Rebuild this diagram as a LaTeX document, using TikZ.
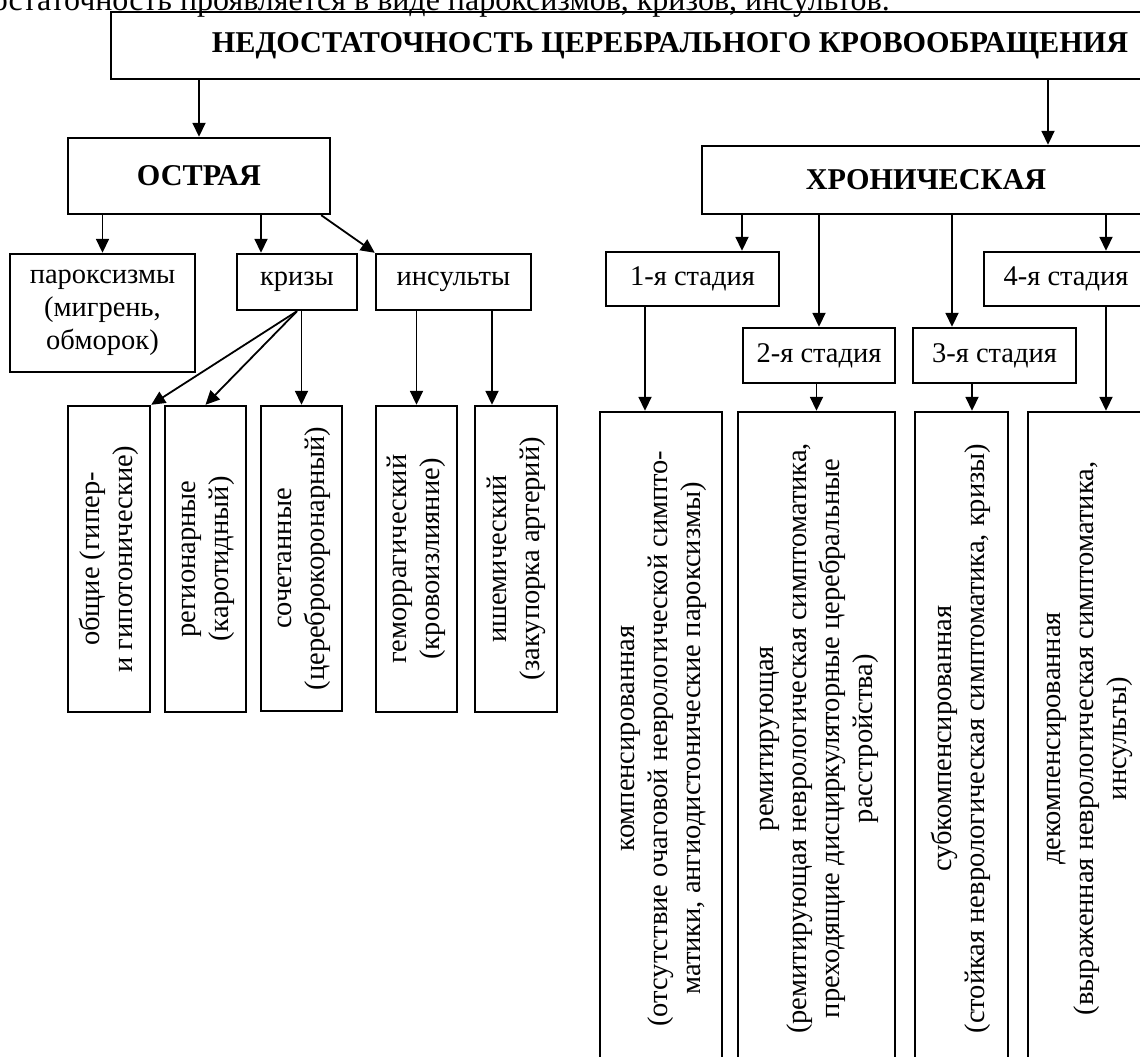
\documentclass[tikz,border=0pt]{standalone}
\usepackage{fontspec}
\setmainfont{Liberation Serif}
\usetikzlibrary{arrows.meta,calc}
\newcommand\bodyfont{\fontsize{28.5}{33}\selectfont}
\newcommand\introfont{\fontsize{32}{36}\selectfont}
\newcommand\headfont{\fontsize{30.2}{35}\selectfont\bfseries}
\newcommand\vtext[1]{\rotatebox{90}{\begin{tabular}{@{}c@{}}#1\end{tabular}}}
\begin{document}
\begin{tikzpicture}[x=1pt,y=-1pt,
  box/.style={draw, line width=2.4pt, inner sep=0pt, align=center, font=\bodyfont},
  hbox/.style={box, font=\headfont},
  arr/.style={line width=1.8pt, -{Triangle[length=14pt,width=13pt]}}]
\useasboundingbox (0,0) rectangle (1140,1057);
\clip (0,0) rectangle (1140,1057);

% partial line of text at the top (cut by the page edge in the reference)
\node[anchor=base east, font=\introfont, inner sep=0pt] (intro) at (890,11)
  {достаточность проявляется в виде пароксизмов, кризов, инсультов.};

% main boxes
\node[hbox, minimum width=1118pt, minimum height=67pt] (top) at (670,45.5)
  {НЕДОСТАТОЧНОСТЬ ЦЕРЕБРАЛЬНОГО КРОВООБРАЩЕНИЯ};
\node[hbox, minimum width=262pt, minimum height=76pt] (ostr) at (199,176) {ОСТРАЯ};
\node[hbox, minimum width=448pt, minimum height=68pt] (hron) at (926,180) {ХРОНИЧЕСКАЯ};

% acute branch
\node[box, minimum width=185pt, minimum height=118pt] (paro) at (102.5,313)
  {пароксизмы\\(мигрень,\\обморок)};
\node[box, minimum width=120pt, minimum height=56pt] (kriz) at (297,282) {кризы};
\node[box, minimum width=155pt, minimum height=56pt] (insu) at (453.5,282) {инсульты};

\node[box, minimum width=82pt, minimum height=306pt] (obsh) at (109,559)
  {\vtext{общие (гипер-\\и гипотонические)}};
\node[box, minimum width=81pt, minimum height=306pt] (regi) at (205.5,559)
  {\vtext{регионарные\\(каротидный)}};
\node[box, minimum width=81pt, minimum height=305pt] (soch) at (301.5,558.5)
  {\vtext{сочетанные\\(цереброкоронарный)}};
\node[box, minimum width=81pt, minimum height=306pt] (gemo) at (416.5,559)
  {\vtext{геморрагический\\(кровоизлияние)}};
\node[box, minimum width=82pt, minimum height=306pt] (ishe) at (516,559)
  {\vtext{ишемический\\(закупорка артерий)}};

% chronic branch
\node[box, minimum width=173pt, minimum height=54pt] (st1) at (692.5,279) {1-я стадия};
\node[box, minimum width=152pt, minimum height=55pt] (st2) at (819,355.5) {2-я стадия};
\node[box, minimum width=163pt, minimum height=55pt] (st3) at (994.5,355.5) {3-я стадия};
\node[box, minimum width=164pt, minimum height=54pt] (st4) at (1066,279) {4-я стадия};

\node[box, minimum width=122pt, minimum height=653pt] (b1) at (661,738.5)
  {\vtext{компенсированная\\(отсутствие очаговой неврологической симпто-\\матики, ангиодистонические пароксизмы)}};
\node[box, minimum width=157pt, minimum height=653pt] (b2) at (816.5,738.5)
  {\vtext{ремитирующая\\(ремитирующая неврологическая симптоматика,\\преходящие дисциркуляторные церебральные\\расстройства)}};
\node[box, minimum width=93pt, minimum height=653pt] (b3) at (961.5,738.5)
  {\vtext{субкомпенсированная\\(стойкая неврологическая симптоматика, кризы)}};
\node[box, minimum width=118pt, minimum height=653pt] (b4) at (1087,738.5)
  {\vtext{декомпенсированная\\(выраженная неврологическая симптоматика,\\инсульты)}};

% helper coordinates for off-centre arrows
\coordinate (aR) at ($(hron.north)+(122,0)$);
\coordinate (k1) at ($(kriz.north)+(-36,0)$);
\coordinate (i2) at ($(ishe.north)+(-24,0)$);
\coordinate (s1) at ($(st1.north)+(49.5,0)$);
\coordinate (s3) at ($(st3.north)+(-42.5,0)$);
\coordinate (s4) at ($(st4.north)+(40,0)$);
\coordinate (c1) at ($(b1.north)+(-16,0)$);
\coordinate (c3) at ($(b3.north)+(10.5,0)$);
\coordinate (c4) at ($(b4.north)+(19,0)$);
\coordinate (od) at ($(ostr.south east)+(-10,0)$);

% connectors
\draw[arr] (top.south -| ostr.north) -- (ostr.north);
\draw[arr] (aR |- top.south) -- (aR);

\draw[arr] (ostr.south -| paro.north) -- (paro.north);
\draw[arr] (k1 |- ostr.south) -- (k1);
\draw[arr] (od) -- (insu.north west);

\draw[arr] (kriz.south) -- (obsh.north east);
\draw[arr] (kriz.south) -- (regi.north);
\draw[arr] (kriz.south -| soch.north) -- (soch.north);
\draw[arr] (insu.south -| gemo.north) -- (gemo.north);
\draw[arr] (i2 |- insu.south) -- (i2);

\draw[arr] (s1 |- hron.south) -- (s1);
\draw[arr] (hron.south -| st2.north) -- (st2.north);
\draw[arr] (s3 |- hron.south) -- (s3);
\draw[arr] (s4 |- hron.south) -- (s4);

\draw[arr] (c1 |- st1.south) -- (c1);
\draw[arr] (st2.south -| b2.north) -- (b2.north);
\draw[arr] (c3 |- st3.south) -- (c3);
\draw[arr] (c4 |- st4.south) -- (c4);
\end{tikzpicture}
\end{document}
